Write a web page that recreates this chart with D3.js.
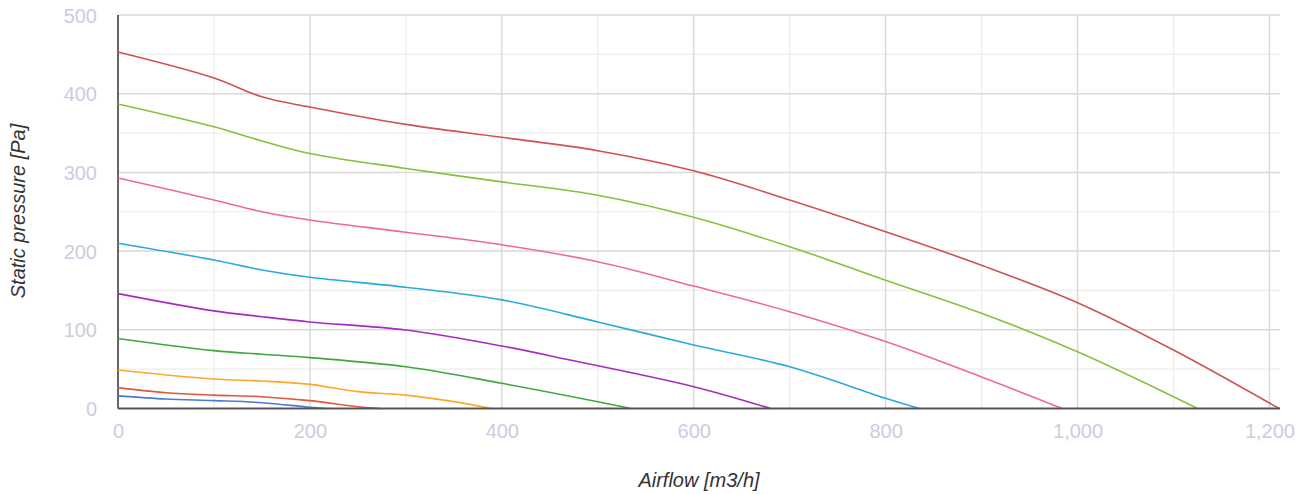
<!DOCTYPE html>
<html><head><meta charset="utf-8">
<script src="https://cdn.jsdelivr.net/npm/d3@7"></script>
<style>body{margin:0;background:#fff}svg{display:block}</style>
</head><body>
<script>
const xTicks = [0,200,400,600,800,1000,1200];
const yTicks = [0,100,200,300,400,500];
const xMinor = [100,300,500,700,900,1100];
const yMinor = [50,150,250,350,450];

const s1x = [0,50,100,150,200,216];
const s1y = [16,12,10,7.4,1.5,0];
const s2x = [0,50,100,150,200,250,273];
const s2y = [26.5,20,17,15,10,2.3,0];
const s3x = [0,100,150,200,250,300,350,389];
const s3y = [49,37.5,35,30.7,21.4,17,8.7,0];
const s4x = [0,100,150,200,300,400,500,534];
const s4y = [89,73.5,69,64.6,53,32,8.6,0];
const s5x = [0,100,150,200,300,400,471,600,680];
const s5y = [146,124,116.6,110,99.7,79.4,61.6,27.7,0];
const s6x = [0,100,150,200,300,400,500,600,700,800,835];
const s6y = [210,188.7,176,166.7,154,138,110,80.7,53,13,0];
const s7x = [0,100,150,200,300,400,500,600,700,800,900,984];
const s7y = [293,265,250,239.5,224,208,186.5,155.6,123,85,40,0];
const s8x = [0,100,150,200,300,400,500,600,700,800,900,1000,1100,1125];
const s8y = [387,358,340,324,305,288,271,243,205.6,163,121,72,15,0];
const s9x = [0,100,150,200,300,400,500,600,700,800,900,1000,1100,1210];
const s9y = [453,420,396,383,361,344.6,327.6,302,265,224.6,182,134.5,74.3,0];

const seriesX = [s1x,s2x,s3x,s4x,s5x,s6x,s7x,s8x,s9x];
const seriesY = [s1y,s2y,s3y,s4y,s5y,s6y,s7y,s8y,s9y];
const colors = ["#4a79d8","#e0583b","#ffa62b","#3fa73f","#a82bbf","#29aadc","#ee6a95","#85c13b","#cf5252"];

const W = 1310, H = 494;
const svg = d3.select("body").append("svg").attr("width", W).attr("height", H);
const x = d3.scaleLinear().domain([0,1211]).range([118,1280]);
const y = d3.scaleLinear().domain([0,500]).range([408.5,15]);

const g = svg.append("g");
g.selectAll(".vmin").data(xMinor).join("line")
  .attr("x1",d=>x(d)).attr("x2",d=>x(d)).attr("y1",y(500)).attr("y2",y(0))
  .attr("stroke","#ececec").attr("stroke-width",1.2);
g.selectAll(".hmin").data(yMinor).join("line")
  .attr("x1",x(0)).attr("x2",x(1211)).attr("y1",d=>y(d)).attr("y2",d=>y(d))
  .attr("stroke","#ececec").attr("stroke-width",1.2);
g.selectAll(".vmaj").data(xTicks.slice(1)).join("line")
  .attr("x1",d=>x(d)).attr("x2",d=>x(d)).attr("y1",y(500)).attr("y2",y(0))
  .attr("stroke","#d9d9d9").attr("stroke-width",1.5);
g.selectAll(".hmaj").data(yTicks.slice(1)).join("line")
  .attr("x1",x(0)).attr("x2",x(1211)).attr("y1",d=>y(d)).attr("y2",d=>y(d))
  .attr("stroke","#d9d9d9").attr("stroke-width",1.5);

svg.append("line").attr("x1",x(0)).attr("x2",x(0)).attr("y1",y(500)).attr("y2",y(0))
  .attr("stroke","#333").attr("stroke-width",1.5);

const line = d3.line().x(d=>x(d[0])).y(d=>y(d[1])).curve(d3.curveCatmullRom.alpha(0.5));
seriesX.forEach((xs,i)=>{
  const pts = xs.map((v,j)=>[v,seriesY[i][j]]);
  svg.append("path").attr("d",line(pts)).attr("fill","none")
    .attr("stroke",colors[i]).attr("stroke-width",1.6);
});

svg.append("line").attr("x1",x(0)).attr("x2",x(1211)).attr("y1",y(0)).attr("y2",y(0))
  .attr("stroke","#555").attr("stroke-width",2);

const xAxis = d3.axisBottom(x).tickValues(xTicks).tickSize(0).tickPadding(0)
  .tickFormat(d3.format(","));
const xa = svg.append("g").attr("transform",`translate(0,${y(0)})`).call(xAxis);
xa.select(".domain").remove();
xa.selectAll("text").attr("dy",null).attr("y",29.5)
  .attr("fill","#c9cedf").style("font-family","Liberation Sans, Arial, sans-serif").style("font-size","20px");

const yAxis = d3.axisLeft(y).tickValues(yTicks).tickSize(0).tickPadding(0);
const ya = svg.append("g").attr("transform",`translate(${x(0)},0)`).call(yAxis);
ya.select(".domain").remove();
ya.selectAll("text").attr("x",-21).attr("dy","0.35em")
  .attr("fill","#c9cedf").style("font-family","Liberation Sans, Arial, sans-serif").style("font-size","20px");

svg.append("text").attr("x",699).attr("y",487).attr("text-anchor","middle")
  .style("font-family","Liberation Sans, Arial, sans-serif").style("font-size","20px")
  .style("font-style","italic").attr("fill","#333").text("Airflow [m3/h]");
svg.append("text").attr("transform","translate(25,211) rotate(-90)").attr("text-anchor","middle")
  .style("font-family","Liberation Sans, Arial, sans-serif").style("font-size","20px")
  .style("font-style","italic").attr("fill","#333").text("Static pressure [Pa]");
</script>
</body></html>
